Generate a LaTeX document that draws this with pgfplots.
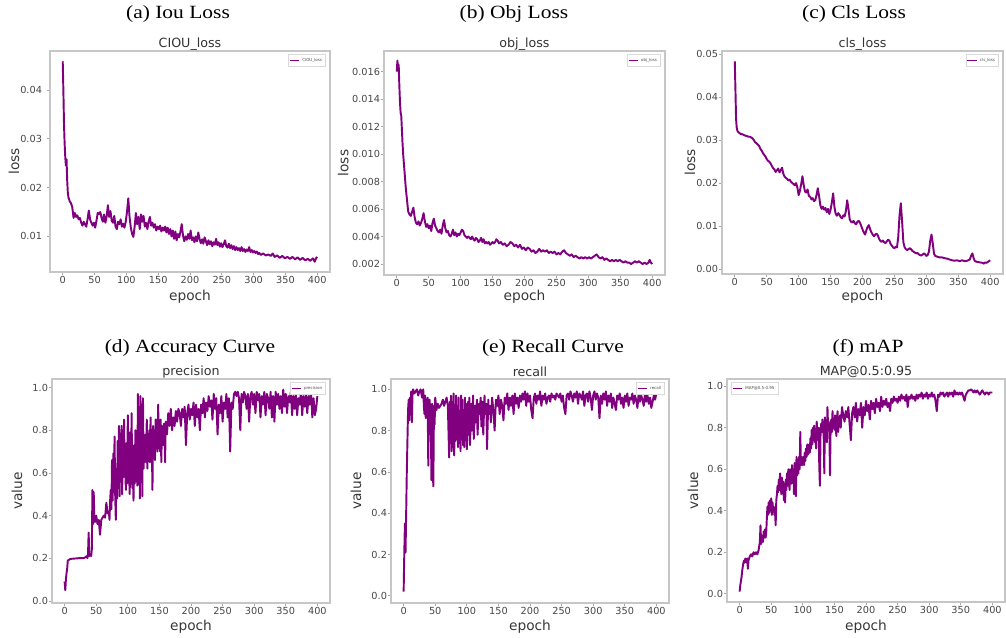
\documentclass[border=0pt]{standalone}
\usepackage{pgfplots}
\pgfplotsset{compat=1.18}
\usepackage{fontspec}
\setmainfont{Liberation Serif}
\newfontfamily\capfont[FakeStretch=1.15]{Liberation Serif}
\newfontfamily\dv{DejaVu Sans}
\definecolor{mpurple}{HTML}{800080}

\pgfplotsset{
  panel/.style={
    scale only axis,
    xmin=-20, xmax=420,
    xtick={0,50,100,150,200,250,300,350,400},
    xticklabels={0,50,100,150,200,250,300,350,400},
    scaled y ticks=false,
    axis line style={draw=gray!45, line width=0.9pt},
    tick align=outside, major tick length=2.5pt,
    tick style={gray!70, line width=0.5pt},
    xtick pos=bottom, ytick pos=left,
    tick label style={font=\dv\fontsize{7.3}{9}\selectfont, text=black!72},
    xticklabel style={yshift=3pt},
    yticklabel style={xshift=3pt},
    label style={font=\dv\fontsize{10.3}{12}\selectfont, text=black!78},
    every axis title/.style={at={(0.5,1.032)}, anchor=center,
      font=\dv\fontsize{9.5}{11}\selectfont, text=black!80},
    xlabel={epoch},
    legend style={at={(0.985,0.985)}, anchor=north east, font=\dv\fontsize{3}{3.5}\selectfont,
      draw=gray!30, inner sep=0.6pt, text=black!70},
    legend cell align=left,
    legend image code/.code={\draw[#1, line width=0.8pt] (0pt,0pt) -- (7pt,0pt);},
  },
  ln/.style={color=mpurple, line width=1.45pt, line join=round, mark=none},
}

\begin{document}
\begin{tikzpicture}
\useasboundingbox (0pt,0pt) rectangle (754.5pt,-477.75pt);

% captions
\node[font=\capfont\fontsize{14}{16}\selectfont] at (133.5pt,-10.5pt) {(a) Iou Loss};
\node[font=\capfont\fontsize{14}{16}\selectfont] at (385.5pt,-10.5pt) {(b) Obj Loss};
\node[font=\capfont\fontsize{14}{16}\selectfont] at (640.5pt,-10.5pt) {(c) Cls Loss};
\node[font=\capfont\fontsize{14}{16}\selectfont] at (142.5pt,-261pt) {(d) Accuracy Curve};
\node[font=\capfont\fontsize{14}{16}\selectfont] at (414.75pt,-261pt) {(e) Recall Curve};
\node[font=\capfont\fontsize{14}{16}\selectfont] at (651pt,-261pt) {(f) mAP};

% (a) CIOU loss
\begin{axis}[panel, at={(37.5pt,-204pt)}, anchor=south west, width=210pt, height=165.75pt,
  ymin=0.0027, ymax=0.048,
  ytick={0.01,0.02,0.03,0.04}, yticklabels={0.01,0.02,0.03,0.04},
  yticklabel style={xshift=-3pt},
  title={CIOU\_loss}, ylabel={loss},
  ylabel style={at={(axis description cs:-0.129,0.5)}, anchor=center},
  xlabel style={at={(axis description cs:0.5,-0.113)}, anchor=center}]
\addplot[ln] coordinates {
(0,0.0459) (1,0.040) (2,0.033) (3,0.029) (4,0.0262) (5,0.0245) (6,0.0258) (7,0.0215)
(8,0.0190) (9,0.0180) (11,0.0172) (13,0.0168) (15,0.0160) (17,0.0138) (19,0.0148) (21,0.0140)
(23,0.0143) (25,0.0135) (27,0.0138) (29,0.0128) (31,0.0122) (33,0.0130) (35,0.0125) (37,0.0120)
(39,0.0135) (41,0.0153) (43,0.0135) (45,0.0128) (47,0.0122) (49,0.0128) (51,0.0118) (53,0.0132)
(55,0.0148) (57,0.0146) (59,0.0150) (61,0.0138) (63,0.0130) (65,0.0145) (67,0.0128) (69,0.0140)
(71,0.0164) (73,0.0140) (75,0.0152) (77,0.0132) (79,0.0128) (81,0.0142) (83,0.0120) (85,0.0115)
(87,0.0130) (89,0.0125) (91,0.0135) (93,0.0120) (95,0.0126) (97,0.0118) (99,0.0130) (101,0.0150)
(103,0.0178) (105,0.0140) (107,0.0118) (109,0.0105) (111,0.0099) (113,0.0120) (115,0.0148) (117,0.0125)
(119,0.0140) (121,0.0115) (123,0.0145) (125,0.0130) (127,0.0142) (129,0.0120) (131,0.0128) (133,0.0115)
(135,0.0130) (137,0.0140) (139,0.0122) (141,0.0128) (143,0.0118) (145,0.0125) (147,0.0112) (149,0.0120)
(151,0.0115) (153,0.0122) (155,0.0110) (157,0.0118) (159,0.0112) (161,0.0120) (163,0.0108) (165,0.0118)
(167,0.0105) (169,0.0115) (171,0.0100) (173,0.0112) (175,0.0095) (177,0.0110) (179,0.0092) (181,0.0105)
(183,0.0098) (185,0.0110) (187,0.0125) (189,0.0102) (191,0.0090) (193,0.0100) (195,0.0093) (197,0.0105)
(199,0.0095) (201,0.0112) (203,0.0092) (205,0.0098) (207,0.0088) (209,0.0100) (211,0.0090) (213,0.0108)
(215,0.0095) (217,0.0086) (219,0.0094) (221,0.0085) (223,0.0098) (225,0.0090) (227,0.0082) (229,0.0092)
(231,0.0084) (233,0.0090) (235,0.0080) (237,0.0088) (239,0.0083) (241,0.0095) (243,0.0082) (245,0.0088)
(247,0.0079) (249,0.0086) (251,0.0078) (253,0.0084) (255,0.0092) (257,0.0080) (259,0.0077) (261,0.0085)
(263,0.0076) (265,0.0082) (267,0.0074) (269,0.0080) (271,0.0072) (273,0.0078) (275,0.0072) (277,0.0076)
(279,0.0070) (281,0.0078) (283,0.0070) (285,0.0074) (287,0.0068) (289,0.0073) (291,0.0070) (293,0.0078)
(295,0.0068) (297,0.0072) (299,0.0067) (301,0.0070) (303,0.0066) (305,0.0069) (307,0.0064) (309,0.0066)
(311,0.0062) (315,0.0065) (319,0.0061) (323,0.0063) (327,0.0060) (330,0.0065) (333,0.0058) (337,0.0061)
(341,0.0056) (345,0.0060) (349,0.0055) (353,0.0058) (357,0.0054) (361,0.0058) (365,0.0053) (369,0.0057)
(373,0.0052) (377,0.0056) (381,0.0051) (385,0.0054) (389,0.0050) (393,0.0055) (396,0.0048) (398,0.0055)
(400,0.0058)
};
\addlegendentry{CIOU\_loss}
\end{axis}

% (b) obj loss
\begin{axis}[panel, at={(288pt,-206.25pt)}, anchor=south west, width=210.75pt, height=168pt,
  ymin=0.0012, ymax=0.0175,
  ytick={0.002,0.004,0.006,0.008,0.010,0.012,0.014,0.016},
  yticklabels={0.002,0.004,0.006,0.008,0.010,0.012,0.014,0.016},
  title={obj\_loss}, ylabel={loss},
  ylabel style={at={(axis description cs:-0.145,0.5)}, anchor=center},
  xlabel style={at={(axis description cs:0.5,-0.098)}, anchor=center}]
\addplot[ln] coordinates {
(0,0.0160) (1,0.0168) (2,0.0162) (3,0.0165) (4,0.0150) (5,0.0138) (6,0.0130) (7,0.0128)
(8,0.0118) (9,0.0108) (10,0.0100) (11,0.0094) (12,0.0088) (13,0.0082) (14,0.0076) (15,0.0071)
(16,0.0067) (17,0.0062) (18,0.0058) (20,0.0056) (22,0.0055) (24,0.0058) (26,0.0061) (28,0.0054)
(30,0.0050) (32,0.0049) (34,0.0051) (36,0.0048) (38,0.0050) (40,0.0053) (42,0.0057) (44,0.0051)
(46,0.0047) (48,0.0049) (50,0.0046) (52,0.0048) (54,0.0044) (56,0.0050) (58,0.0053) (60,0.0048)
(62,0.0046) (64,0.0044) (66,0.0043) (68,0.0045) (70,0.0042) (72,0.0048) (74,0.0052) (76,0.0046)
(78,0.0043) (80,0.0044) (82,0.0041) (84,0.0040) (86,0.0042) (88,0.0045) (90,0.0041) (92,0.0043)
(94,0.0040) (96,0.0042) (98,0.0041) (100,0.0043) (102,0.0045) (104,0.0044) (106,0.0041) (108,0.0040)
(110,0.0039) (112,0.0040) (114,0.0039) (116,0.0038) (118,0.0040) (120,0.0038) (122,0.0037) (124,0.0039)
(126,0.0038) (128,0.0036) (130,0.0037) (132,0.0039) (134,0.0036) (136,0.0038) (138,0.0035) (140,0.0036)
(142,0.0035) (144,0.0036) (146,0.0034) (148,0.0035) (150,0.0036) (152,0.0035) (154,0.0036) (156,0.0038)
(158,0.0037) (160,0.0035) (163,0.0036) (166,0.0034) (169,0.0035) (172,0.0033) (175,0.0034) (178,0.0036)
(181,0.0035) (184,0.0033) (187,0.0034) (190,0.0032) (193,0.0034) (196,0.0031) (199,0.0032) (202,0.0030)
(205,0.0032) (208,0.0031) (211,0.0029) (214,0.0030) (217,0.0028) (220,0.0029) (223,0.0031) (226,0.0029)
(229,0.0030) (232,0.0029) (235,0.0030) (238,0.0028) (241,0.0029) (244,0.0028) (247,0.0029) (250,0.0027)
(253,0.0028) (256,0.0027) (259,0.0029) (262,0.0030) (265,0.0028) (268,0.0027) (271,0.0026) (274,0.0027)
(277,0.0025) (280,0.0026) (283,0.0025) (286,0.0024) (289,0.0025) (292,0.0024) (295,0.0025) (298,0.0024)
(301,0.0025) (304,0.0024) (307,0.0025) (310,0.0026) (313,0.0027) (316,0.0025) (319,0.0024) (322,0.0025)
(325,0.0023) (328,0.0024) (331,0.0023) (334,0.0022) (337,0.0023) (340,0.0022) (343,0.0023) (346,0.0022)
(349,0.0023) (352,0.0022) (355,0.0021) (358,0.0022) (361,0.0021) (364,0.0021) (367,0.0020) (370,0.0021)
(373,0.0022) (376,0.0021) (379,0.0022) (382,0.0021) (385,0.0020) (388,0.0021) (391,0.0020) (394,0.0021)
(396,0.0023) (398,0.0021) (400,0.0020)
};
\addlegendentry{obj\_loss}
\end{axis}

% (c) cls loss
\begin{axis}[panel, at={(541.5pt,-205.5pt)}, anchor=south west, width=210.75pt, height=167.25pt,
  ymin=-0.0012, ymax=0.0508,
  ytick={0,0.01,0.02,0.03,0.04,0.05}, yticklabels={0.00,0.01,0.02,0.03,0.04,0.05},
  title={cls\_loss}, ylabel={loss},
  ylabel style={at={(axis description cs:-0.114,0.5)}, anchor=center},
  xlabel style={at={(axis description cs:0.5,-0.104)}, anchor=center}]
\addplot[ln] coordinates {
(0,0.0484) (1,0.0420) (2,0.0350) (3,0.0330) (4,0.0322) (6,0.0318) (8,0.0316) (10,0.0314)
(12,0.0314) (14,0.0312) (16,0.0311) (18,0.0310) (20,0.0309) (22,0.0308) (24,0.0308) (26,0.0306)
(28,0.0304) (30,0.0300) (32,0.0295) (34,0.0293) (36,0.0290) (38,0.0287) (40,0.0280) (42,0.0276)
(44,0.0270) (46,0.0266) (48,0.0262) (50,0.0256) (52,0.0252) (54,0.0250) (56,0.0246) (58,0.0240)
(60,0.0235) (62,0.0232) (64,0.0226) (66,0.0230) (68,0.0234) (70,0.0225) (72,0.0230) (74,0.0236)
(76,0.0222) (78,0.0215) (80,0.0212) (82,0.0210) (84,0.0206) (86,0.0208) (88,0.0203) (90,0.0200)
(92,0.0198) (94,0.0195) (96,0.0200) (98,0.0190) (100,0.0172) (102,0.0182) (104,0.0198) (106,0.0216)
(108,0.0195) (110,0.0180) (112,0.0178) (114,0.0185) (116,0.0170) (118,0.0168) (120,0.0162) (122,0.0165)
(124,0.0158) (126,0.0160) (128,0.0172) (130,0.0188) (132,0.0170) (134,0.0148) (136,0.0140) (138,0.0145)
(140,0.0138) (142,0.0142) (144,0.0132) (146,0.0140) (148,0.0128) (150,0.0138) (152,0.0155) (154,0.0176)
(156,0.0145) (158,0.0128) (160,0.0124) (162,0.0130) (164,0.0126) (166,0.0120) (168,0.0118) (170,0.0125)
(172,0.0122) (174,0.0135) (176,0.0160) (178,0.0140) (180,0.0115) (182,0.0110) (184,0.0108) (186,0.0112)
(188,0.0106) (190,0.0104) (192,0.0110) (194,0.0112) (196,0.0108) (198,0.0100) (200,0.0092) (202,0.0085)
(204,0.0080) (206,0.0090) (208,0.0098) (210,0.0102) (212,0.0092) (214,0.0085) (216,0.0080) (218,0.0076)
(220,0.0080) (222,0.0082) (224,0.0078) (226,0.0070) (228,0.0065) (230,0.0063) (232,0.0066) (234,0.0062)
(236,0.0060) (238,0.0064) (240,0.0068) (242,0.0066) (244,0.0058) (246,0.0054) (248,0.0050) (250,0.0048)
(252,0.0052) (254,0.0050) (256,0.0075) (258,0.0125) (260,0.0153) (262,0.0110) (264,0.0062) (266,0.0050)
(268,0.0046) (270,0.0044) (272,0.0046) (274,0.0048) (276,0.0046) (278,0.0042) (280,0.0040) (282,0.0038)
(284,0.0036) (286,0.0037) (288,0.0034) (290,0.0032) (292,0.0031) (294,0.0033) (296,0.0036) (298,0.0034)
(300,0.0030) (302,0.0032) (304,0.0040) (306,0.0065) (308,0.0080) (310,0.0060) (312,0.0035) (314,0.0030)
(316,0.0029) (318,0.0028) (320,0.0027) (324,0.0027) (328,0.0025) (332,0.0024) (336,0.0022) (340,0.0020)
(344,0.0019) (348,0.0020) (352,0.0018) (356,0.0020) (360,0.0018) (364,0.0019) (368,0.0022) (370,0.0030)
(372,0.0036) (374,0.0025) (376,0.0018) (380,0.0016) (384,0.0015) (388,0.0014) (390,0.0012) (392,0.0015)
(394,0.0014) (396,0.0016) (398,0.0018) (400,0.0020)
};
\addlegendentry{cls\_loss}
\end{axis}

% (d) precision
\begin{axis}[panel, at={(39pt,-452.25pt)}, anchor=south west, width=208.5pt, height=168pt,
  ymin=-0.01, ymax=1.04,
  ytick={0,0.2,0.4,0.6,0.8,1.0}, yticklabels={0.0,0.2,0.4,0.6,0.8,1.0},
  title={precision}, ylabel={value},
  ylabel style={at={(axis description cs:-0.126,0.5)}, anchor=center},
  xlabel style={at={(axis description cs:0.5,-0.107)}, anchor=center}]
\addplot[ln] coordinates {
(0,0.09) (1,0.05) (2,0.10) (3,0.13) (4,0.15) (5,0.19) (6,0.19) (8,0.195)
(10,0.197) (14,0.198) (18,0.199) (22,0.20) (26,0.20) (30,0.20) (33,0.205) (35,0.21)
(36,0.20) (37,0.22) (38,0.32) (39,0.21) (41,0.22) (42,0.21) (43,0.24) (44,0.52)
(45,0.36) (46,0.51) (47,0.39) (48,0.37) (50,0.40) (52,0.36) (54,0.38) (56,0.31)
(58,0.38) (60,0.39) (62,0.40) (64,0.39) (66,0.46) (68,0.41) (70,0.42) (71,0.38)
(72,0.47) (73,0.52) (74,0.43) (75,0.66) (76,0.47) (77,0.69) (78,0.51) (79,0.77)
(80,0.50) (81,0.38) (82,0.62) (83,0.48) (84,0.75) (85,0.53) (86,0.82) (87,0.49)
(88,0.72) (89,0.56) (90,0.82) (91,0.50) (92,0.69) (93,0.58) (94,0.85) (95,0.62)
(96,0.60) (97,0.52) (98,0.74) (99,0.55) (100,0.87) (101,0.65) (102,0.60) (103,0.50)
(104,0.79) (105,0.57) (106,0.88) (107,0.53) (108,0.62) (109,0.47) (110,0.73) (111,0.55)
(112,0.80) (113,0.60) (114,0.66) (115,0.54) (116,0.97) (117,0.62) (118,0.85) (119,0.48)
(120,0.96) (121,0.67) (122,0.78) (123,0.49) (124,0.95) (125,0.62) (126,0.72) (127,0.68)
(128,0.78) (129,0.65) (130,0.85) (131,0.62) (132,0.78) (133,0.71) (134,0.80) (135,0.65)
(136,0.86) (137,0.70) (138,0.74) (139,0.52) (140,0.82) (141,0.72) (142,0.76) (143,0.66)
(144,0.85) (145,0.74) (146,0.82) (147,0.70) (148,0.92) (149,0.76) (150,0.80) (151,0.70)
(152,0.85) (153,0.65) (154,0.82) (155,0.79) (156,0.73) (157,0.83) (158,0.79) (159,0.65)
(160,0.84) (162,0.78) (164,0.88) (166,0.82) (168,0.90) (170,0.80) (172,0.86) (174,0.82)
(176,0.89) (178,0.84) (180,0.90) (182,0.88) (184,0.82) (186,0.90) (188,0.86) (190,0.91)
(192,0.73) (194,0.88) (196,0.92) (198,0.85) (200,0.90) (202,0.87) (204,0.93) (206,0.82)
(208,0.92) (210,0.86) (212,0.90) (214,0.80) (216,0.92) (218,0.88) (220,0.95) (222,0.86)
(224,0.93) (226,0.89) (228,0.96) (230,0.91) (232,0.94) (234,0.85) (236,0.97) (238,0.90)
(240,0.95) (242,0.78) (244,0.92) (246,0.88) (248,0.96) (250,0.84) (252,0.93) (254,0.90)
(256,0.97) (258,0.86) (260,0.95) (262,0.70) (264,0.93) (266,0.90) (268,0.97) (270,0.98)
(272,0.96) (274,0.98) (276,0.95) (278,0.80) (280,0.97) (282,0.93) (284,0.98) (286,0.96)
(288,0.90) (290,0.97) (292,0.84) (294,0.96) (296,0.98) (298,0.92) (300,0.97) (302,0.88)
(304,0.98) (306,0.94) (308,0.97) (310,0.86) (312,0.96) (314,0.92) (316,0.98) (318,0.87)
(320,0.97) (322,0.95) (324,0.90) (326,0.98) (328,0.86) (330,0.96) (332,0.84) (334,0.98)
(336,0.92) (338,0.97) (340,0.90) (342,0.96) (344,0.88) (346,0.99) (348,0.91) (350,0.97)
(352,0.88) (354,0.96) (356,0.93) (358,0.98) (360,0.87) (362,0.96) (364,0.90) (366,0.97)
(368,0.87) (370,0.95) (372,0.92) (374,0.98) (376,0.87) (378,0.96) (380,0.91) (382,0.97)
(384,0.88) (386,0.96) (388,0.92) (390,0.98) (392,0.86) (394,0.95) (396,0.87) (398,0.90)
(400,0.96)
};
\addlegendentry{precision}
\end{axis}

% (e) recall
\begin{axis}[panel, at={(293.25pt,-452.25pt)}, anchor=south west, width=208.5pt, height=168pt,
  ymin=-0.035, ymax=1.05,
  ytick={0,0.2,0.4,0.6,0.8,1.0}, yticklabels={0.0,0.2,0.4,0.6,0.8,1.0},
  title={recall}, ylabel={value},
  ylabel style={at={(axis description cs:-0.126,0.5)}, anchor=center},
  xlabel style={at={(axis description cs:0.5,-0.107)}, anchor=center}]
\addplot[ln] coordinates {
(0,0.02) (1,0.20) (2,0.35) (3,0.21) (4,0.40) (5,0.60) (6,0.75) (7,0.90)
(8,0.95) (9,0.85) (10,0.96) (11,0.92) (12,0.99) (13,0.84) (14,0.97) (15,1.00)
(17,0.98) (19,0.99) (21,1.00) (23,0.97) (25,0.99) (27,1.00) (29,0.96) (31,1.00)
(32,0.92) (33,0.88) (34,0.97) (35,0.86) (36,0.95) (37,0.88) (38,0.96) (39,0.63)
(40,0.92) (41,0.95) (42,0.90) (43,0.85) (44,0.56) (45,0.93) (46,0.62) (47,0.53)
(48,0.92) (49,0.83) (50,0.96) (52,0.90) (54,0.93) (56,0.91) (58,0.92) (60,0.93)
(62,0.95) (64,0.92) (66,0.94) (68,0.96) (70,0.92) (72,0.67) (73,0.94) (74,0.78)
(75,0.97) (76,0.70) (77,0.93) (78,0.72) (79,0.98) (80,0.68) (81,0.90) (82,0.75)
(83,0.97) (84,0.76) (85,0.92) (86,0.72) (87,0.96) (88,0.74) (89,0.88) (90,0.70)
(91,0.97) (92,0.78) (93,0.95) (94,0.73) (95,0.90) (96,0.72) (97,0.96) (98,0.80)
(99,0.93) (100,0.71) (102,0.94) (103,0.78) (104,0.96) (105,0.73) (107,0.93) (108,0.80)
(110,0.97) (111,0.76) (113,0.92) (114,0.84) (116,0.95) (117,0.78) (119,0.93) (120,0.88)
(122,0.96) (123,0.82) (125,0.94) (126,0.78) (128,0.97) (129,0.88) (131,0.93) (132,0.71)
(134,0.95) (135,0.88) (137,0.92) (138,0.84) (140,0.96) (142,0.90) (144,0.80) (146,0.95)
(148,0.92) (150,0.97) (152,0.88) (154,0.95) (156,0.92) (158,0.85) (160,0.96) (162,0.93)
(164,0.98) (166,0.90) (168,0.96) (170,0.92) (172,0.97) (174,0.88) (176,0.98) (178,0.93)
(180,0.96) (182,0.91) (184,0.97) (186,0.94) (188,0.98) (190,0.95) (192,0.99) (194,0.92)
(196,0.98) (198,0.94) (200,0.97) (202,0.90) (204,0.86) (206,0.96) (208,0.98) (210,0.93)
(212,0.97) (214,0.95) (216,0.99) (218,0.92) (220,0.97) (222,0.95) (224,0.98) (226,0.93)
(228,0.96) (230,0.97) (232,0.94) (234,0.98) (236,0.96) (238,0.97) (240,0.95) (242,0.98)
(244,0.97) (246,0.96) (248,0.98) (250,0.94) (252,0.97) (254,0.91) (256,0.88) (258,0.97)
(260,0.98) (262,0.95) (264,0.99) (266,0.97) (268,0.94) (270,0.98) (272,0.96) (274,0.99)
(276,0.93) (278,0.98) (280,0.97) (282,0.95) (284,0.99) (286,0.92) (288,0.97) (290,0.98)
(292,0.94) (294,0.99) (296,0.96) (298,0.90) (300,0.97) (302,0.99) (304,0.95) (306,0.98)
(308,0.96) (310,0.86) (312,0.97) (314,0.93) (316,0.98) (318,0.95) (320,0.99) (322,0.92)
(324,0.97) (326,0.94) (328,0.98) (330,0.91) (332,0.96) (334,0.93) (336,0.90) (338,0.97)
(340,0.95) (342,0.98) (344,0.93) (346,0.96) (348,0.91) (350,0.97) (352,0.94) (354,0.98)
(356,0.92) (358,0.96) (360,0.95) (362,0.98) (364,0.93) (366,0.97) (368,0.95) (370,0.91)
(372,0.98) (374,0.94) (376,0.97) (378,0.95) (380,0.92) (382,0.98) (384,0.94) (386,0.97)
(388,0.93) (390,0.96) (392,0.91) (394,0.94) (396,0.97) (398,0.95) (400,0.98)
};
\addlegendentry{recall}
\end{axis}

% (f) mAP
\begin{axis}[panel, at={(545.25pt,-451.5pt)}, anchor=south west, width=208.5pt, height=167.25pt,
  ymin=-0.04, ymax=1.035,
  ytick={0,0.2,0.4,0.6,0.8,1.0}, yticklabels={0.0,0.2,0.4,0.6,0.8,1.0},
  title={MAP@0.5:0.95}, ylabel={value},
  ylabel style={at={(axis description cs:-0.122,0.5)}, anchor=center},
  xlabel style={at={(axis description cs:0.5,-0.11)}, anchor=center},
  legend style={at={(0.015,0.985)}, anchor=north west}]
\addplot[ln] coordinates {
(0,0.01) (1,0.04) (2,0.06) (3,0.08) (4,0.11) (5,0.13) (6,0.15) (7,0.16)
(8,0.15) (9,0.17) (10,0.16) (11,0.15) (12,0.17) (13,0.12) (14,0.16) (15,0.17)
(16,0.18) (18,0.19) (20,0.18) (22,0.20) (24,0.19) (26,0.20) (28,0.19) (30,0.21)
(31,0.23) (32,0.25) (33,0.33) (34,0.24) (35,0.26) (36,0.28) (37,0.25) (38,0.30)
(39,0.27) (40,0.31) (41,0.27) (42,0.29) (43,0.36) (44,0.42) (45,0.38) (46,0.44)
(47,0.39) (48,0.45) (49,0.40) (50,0.46) (51,0.38) (52,0.44) (53,0.40) (54,0.42)
(55,0.38) (56,0.40) (57,0.33) (58,0.45) (59,0.48) (60,0.52) (61,0.49) (62,0.55)
(63,0.50) (64,0.58) (65,0.52) (66,0.48) (67,0.56) (68,0.50) (69,0.54) (70,0.45)
(71,0.52) (72,0.44) (73,0.55) (74,0.50) (75,0.58) (76,0.52) (77,0.60) (78,0.55)
(79,0.50) (80,0.60) (81,0.57) (82,0.53) (83,0.62) (84,0.56) (85,0.60) (86,0.48)
(87,0.63) (88,0.58) (89,0.47) (90,0.66) (91,0.57) (92,0.62) (93,0.58) (94,0.66)
(95,0.60) (96,0.78) (97,0.62) (98,0.66) (99,0.62) (100,0.64) (101,0.66) (102,0.62)
(103,0.68) (104,0.64) (105,0.70) (106,0.66) (107,0.72) (108,0.67) (109,0.69) (110,0.72)
(111,0.68) (112,0.75) (113,0.70) (114,0.79) (115,0.72) (116,0.80) (117,0.74) (118,0.81)
(119,0.73) (120,0.78) (121,0.70) (122,0.83) (123,0.76) (124,0.74) (125,0.80) (126,0.62)
(127,0.52) (128,0.76) (129,0.82) (130,0.78) (131,0.84) (132,0.80) (133,0.76) (134,0.58)
(135,0.85) (136,0.78) (137,0.81) (138,0.73) (139,0.90) (140,0.80) (141,0.83) (142,0.78)
(143,0.57) (144,0.80) (145,0.84) (146,0.78) (147,0.88) (148,0.80) (149,0.84) (150,0.79)
(151,0.86) (152,0.83) (153,0.76) (154,0.84) (155,0.88) (156,0.78) (157,0.85) (158,0.82)
(159,0.86) (160,0.80) (162,0.90) (164,0.86) (166,0.83) (168,0.88) (170,0.85) (172,0.90)
(174,0.82) (176,0.74) (178,0.87) (180,0.90) (182,0.85) (184,0.92) (186,0.83) (188,0.89)
(190,0.86) (192,0.92) (194,0.80) (196,0.90) (198,0.86) (200,0.93) (202,0.88) (204,0.91)
(206,0.84) (208,0.93) (210,0.89) (212,0.92) (214,0.87) (216,0.94) (218,0.90) (220,0.92)
(222,0.88) (224,0.95) (226,0.90) (228,0.93) (230,0.91) (232,0.94) (234,0.90) (236,0.92)
(238,0.88) (240,0.94) (242,0.92) (244,0.95) (246,0.93) (248,0.94) (250,0.92) (252,0.95)
(254,0.93) (256,0.96) (258,0.94) (260,0.95) (262,0.93) (264,0.96) (266,0.90) (268,0.95)
(270,0.94) (272,0.96) (274,0.94) (276,0.95) (278,0.93) (280,0.96) (282,0.94) (284,0.96)
(286,0.95) (288,0.97) (290,0.94) (292,0.96) (294,0.95) (296,0.97) (298,0.94) (300,0.96)
(302,0.95) (304,0.97) (306,0.95) (308,0.96) (310,0.93) (312,0.88) (314,0.96) (316,0.95)
(318,0.97) (320,0.96) (322,0.97) (324,0.95) (326,0.96) (328,0.97) (330,0.95) (332,0.97)
(334,0.96) (336,0.97) (338,0.95) (340,0.98) (342,0.96) (344,0.97) (346,0.96) (348,0.97)
(350,0.96) (352,0.97) (354,0.95) (356,0.93) (358,0.96) (360,0.97) (362,0.98) (364,0.98)
(366,0.985) (368,0.98) (370,0.97) (372,0.98) (374,0.97) (376,0.98) (378,0.97) (380,0.96)
(382,0.97) (384,0.98) (386,0.97) (388,0.96) (390,0.97) (392,0.97) (394,0.96) (396,0.97)
(398,0.97) (400,0.97)
};
\addlegendentry{MAP@0.5:0.95}
\end{axis}
\end{tikzpicture}
\end{document}
